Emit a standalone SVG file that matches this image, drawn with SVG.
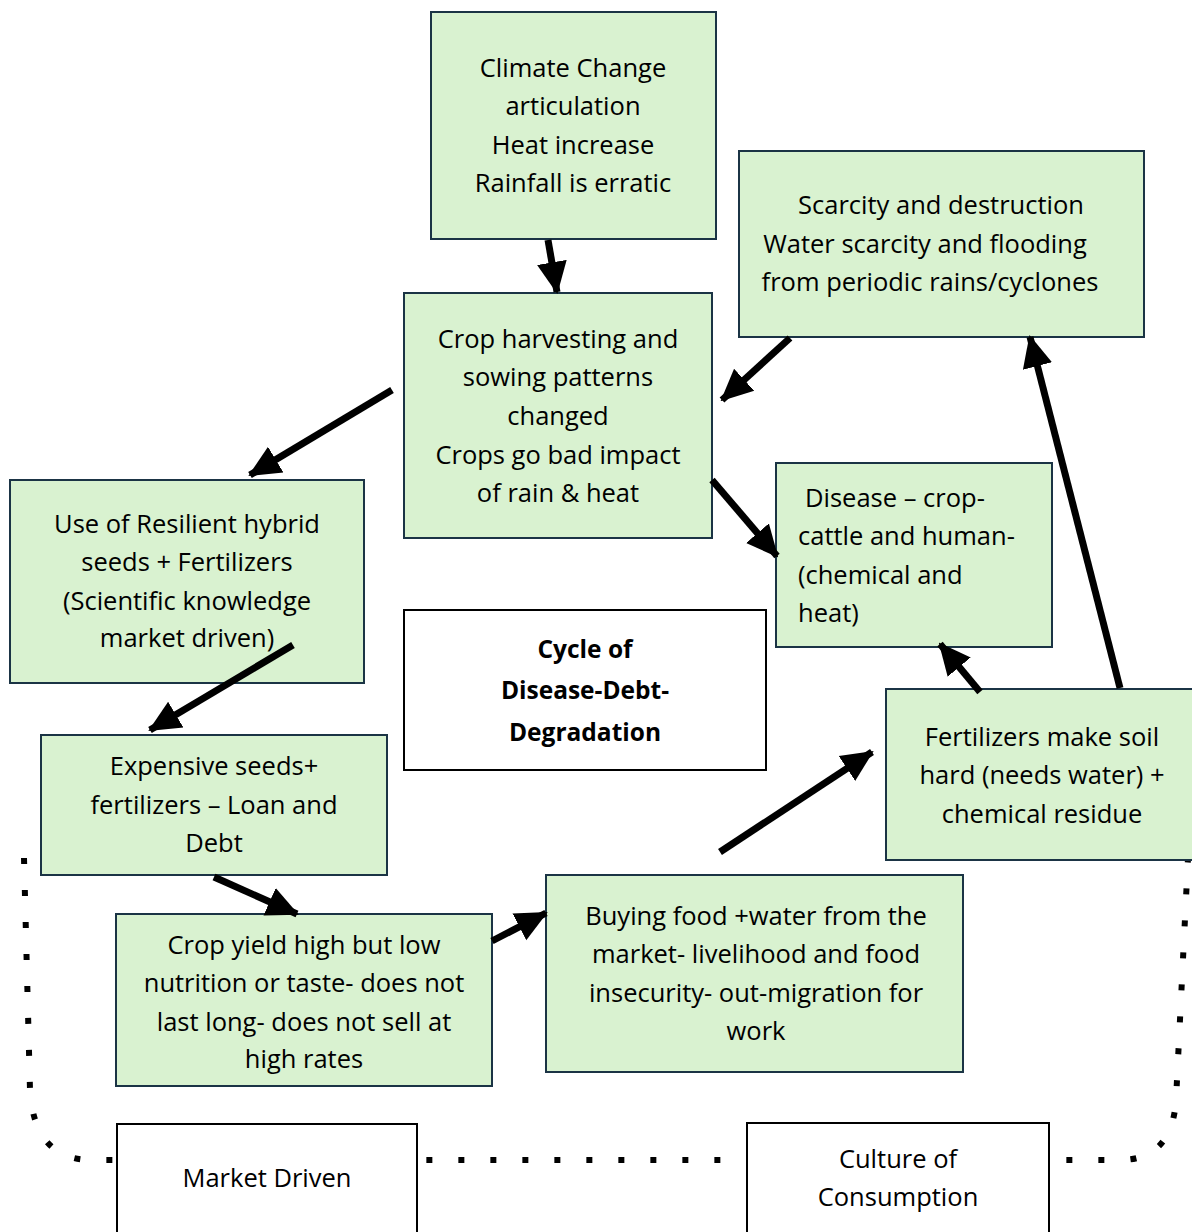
<svg xmlns="http://www.w3.org/2000/svg" width="1192" height="1232" viewBox="0 0 1192 1232">
<defs>
<style>
.box{fill:#d9f2d0;stroke:#1b3445;stroke-width:2}
.wbox{fill:#ffffff;stroke:#000000;stroke-width:2}
text{font-family:"Open Sans","Noto Sans","Liberation Sans",sans-serif;font-size:25.5px;fill:#000}
.c{text-anchor:middle}
.b{font-weight:bold;font-size:24.5px}
.arr{stroke:#000;stroke-width:7;fill:none;marker-end:url(#ah)}
.dot{stroke:#000;stroke-width:6;fill:none;stroke-dasharray:6 26}
</style>
<marker id="ah" markerUnits="userSpaceOnUse" markerWidth="32" markerHeight="32" viewBox="0 0 32 32" refX="30" refY="16" orient="auto">
<path d="M0,1 L32,16 L0,31 Z" fill="#000"/>
</marker>
</defs>
<rect width="1192" height="1232" fill="#fff"/>
<g id="boundary">
<path class="dot" d="M24,858 L30,1090 Q34,1160 92,1160 L1120,1160 Q1172,1160 1176,1100 L1188,858"/>
</g>
<g id="climate">
<rect class="box" x="431" y="12" width="285" height="227"/>
<text class="c" x="573" y="77">Climate Change</text>
<text class="c" x="573" y="115">articulation</text>
<text class="c" x="573" y="154">Heat increase</text>
<text class="c" x="573" y="192">Rainfall is erratic</text>
</g>
<g id="scarcity">
<rect class="box" x="739" y="151" width="405" height="186"/>
<text class="c" x="941" y="214">Scarcity and destruction</text>
<text class="c" x="925" y="253">Water scarcity and flooding</text>
<text class="c" x="930" y="291">from periodic rains/cyclones</text>
</g>
<g id="crop-harvest">
<rect class="box" x="404" y="293" width="308" height="245"/>
<text class="c" x="558" y="348">Crop harvesting and</text>
<text class="c" x="558" y="386">sowing patterns</text>
<text class="c" x="558" y="425">changed</text>
<text class="c" x="558" y="464">Crops go bad impact</text>
<text class="c" x="558" y="502">of rain &amp; heat</text>
</g>
<g id="resilient">
<rect class="box" x="10" y="480" width="354" height="203"/>
<text class="c" x="187" y="533">Use of Resilient hybrid</text>
<text class="c" x="187" y="571">seeds + Fertilizers</text>
<text class="c" x="187" y="610">(Scientific knowledge</text>
<text class="c" x="187" y="647">market driven)</text>
</g>
<g id="disease">
<rect class="box" x="776" y="463" width="276" height="184"/>
<text x="805" y="507">Disease – crop-</text>
<text x="798" y="545">cattle and human-</text>
<text x="798" y="584">(chemical and</text>
<text x="798" y="622">heat)</text>
</g>
<g id="cycle">
<rect class="wbox" x="404" y="610" width="362" height="160"/>
<text class="c b" x="585" y="658">Cycle of</text>
<text class="c b" x="585" y="699">Disease-Debt-</text>
<text class="c b" x="585" y="741">Degradation</text>
</g>
<g id="fertilizers">
<rect class="box" x="886" y="689" width="310" height="171"/>
<text class="c" x="1042" y="746">Fertilizers make soil</text>
<text class="c" x="1042" y="784">hard (needs water) +</text>
<text class="c" x="1042" y="823">chemical residue</text>
</g>
<g id="expensive">
<rect class="box" x="41" y="735" width="346" height="140"/>
<text class="c" x="214" y="775">Expensive seeds+</text>
<text class="c" x="214" y="814">fertilizers – Loan and</text>
<text class="c" x="214" y="852">Debt</text>
</g>
<g id="yield">
<rect class="box" x="116" y="914" width="376" height="172"/>
<text class="c" x="304" y="954">Crop yield high but low</text>
<text class="c" x="304" y="992">nutrition or taste- does not</text>
<text class="c" x="304" y="1031">last long- does not sell at</text>
<text class="c" x="304" y="1068">high rates</text>
</g>
<g id="buying">
<rect class="box" x="546" y="875" width="417" height="197"/>
<text class="c" x="756" y="925">Buying food +water from the</text>
<text class="c" x="756" y="963">market- livelihood and food</text>
<text class="c" x="756" y="1002">insecurity- out-migration for</text>
<text class="c" x="756" y="1040">work</text>
</g>
<g id="market">
<rect class="wbox" x="117" y="1124" width="300" height="120"/>
<text class="c" x="267" y="1187">Market Driven</text>
</g>
<g id="culture">
<rect class="wbox" x="747" y="1123" width="302" height="120"/>
<text class="c" x="898" y="1168">Culture of</text>
<text class="c" x="898" y="1206">Consumption</text>
</g>
<g id="connectors">
<line class="arr" x1="548" y1="240" x2="557" y2="292"/>
<line class="arr" x1="790" y1="338" x2="722" y2="400"/>
<line class="arr" x1="392" y1="390" x2="250" y2="475"/>
<line class="arr" x1="712" y1="480" x2="777" y2="556"/>
<line class="arr" x1="293" y1="645" x2="150" y2="730"/>
<line class="arr" x1="214" y1="877" x2="297" y2="914"/>
<line class="arr" x1="492" y1="941" x2="546" y2="913"/>
<line class="arr" x1="720" y1="852" x2="872" y2="752"/>
<line class="arr" x1="980" y1="692" x2="940" y2="644"/>
<line class="arr" x1="1120" y1="688" x2="1030" y2="337"/>
</g>
</svg>
